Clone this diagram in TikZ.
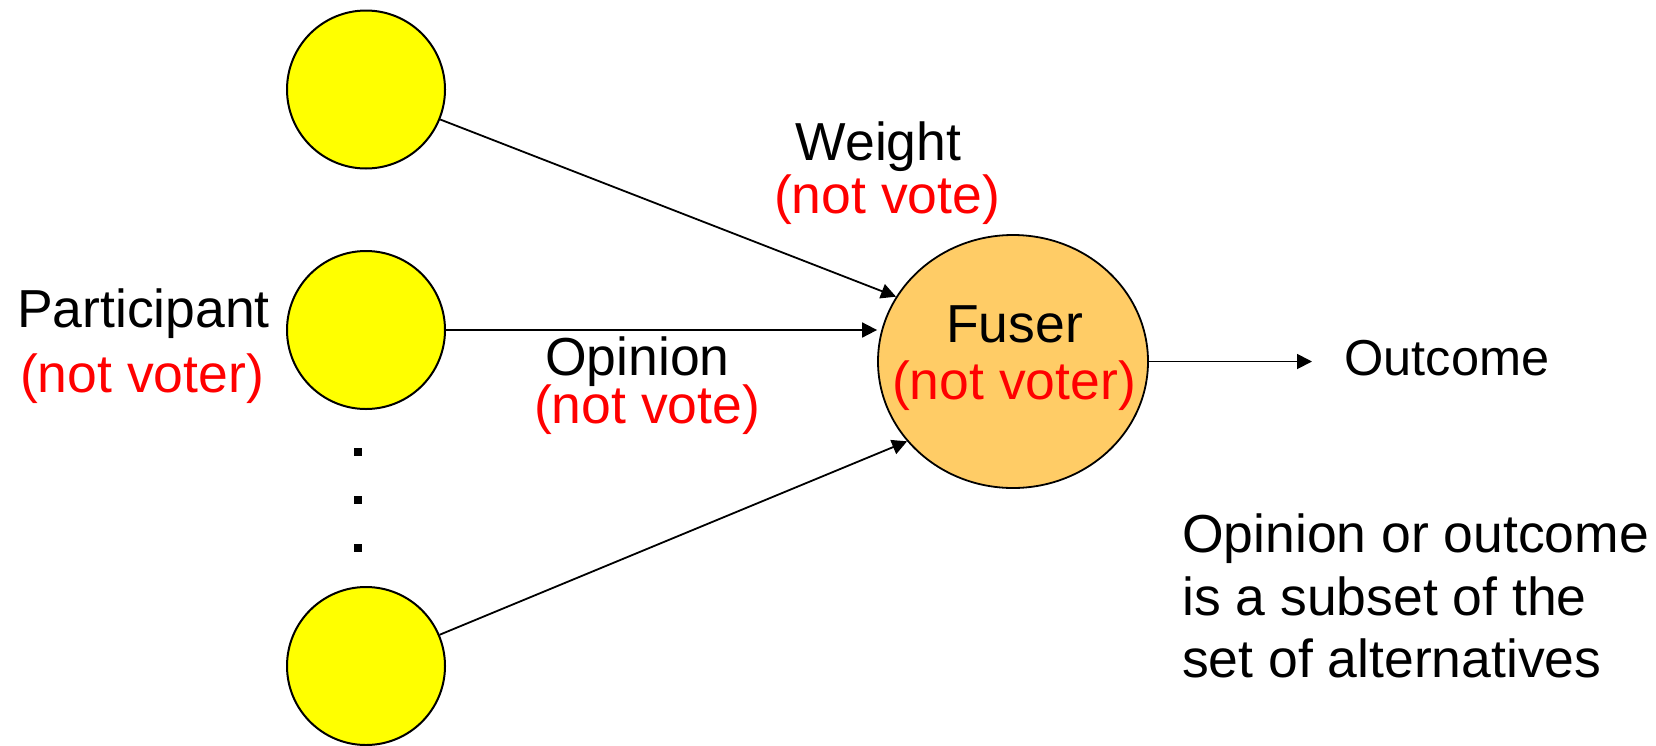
\documentclass[tikz,border=0pt]{standalone}
\usepackage{fontspec}
\setmainfont{Liberation Sans}
\usetikzlibrary{arrows.meta,shapes.geometric}
\definecolor{partyellow}{RGB}{255,255,0}
\definecolor{fuserorange}{RGB}{255,204,102}
\begin{document}
\begin{tikzpicture}[x=1pt,y=-1pt,
  participant/.style={circle,draw=black,line width=2pt,fill=partyellow,minimum size=158pt,inner sep=0pt},
  fuserbox/.style={ellipse,draw=black,line width=1.8pt,fill=fuserorange,minimum width=270pt,minimum height=253pt,inner sep=0pt},
  lbl/.style={inner sep=0pt,anchor=base,font=\fontsize{53.5}{63}\selectfont},
  note/.style={lbl,text=red},
  flow/.style={line width=1.8pt,-{Triangle[length=15pt,width=15pt]}},
  dotmark/.style={fill=black,minimum size=8pt,inner sep=0pt}
]
\useasboundingbox (0,0) rectangle (1656,745);

% participants and the fuser
\node[participant] (p1) at (366,89.5) {};
\node[participant] (p2) at (366,330) {};
\node[participant] (p3) at (366,666) {};
\node[fuserbox] (fuser) at (1013,361.5) {};

% vertical ellipsis between the participants
\node[dotmark] (d1) at (358,452) {};
\node[dotmark] (d2) at (358,500) {};
\node[dotmark] (d3) at (358,548) {};

% connectors
\draw[flow] (p1.338.5) -- (fuser.151.7);
\draw[flow] (p2.east) -- (p2.east -| fuser.west);
\draw[flow] (p3.23.1) -- (fuser.217.1);
\coordinate (outend) at (1312,361.5);
\draw[flow] (fuser.east) -- (outend);

% labels (the tight pair under the middle connector ignores descenders)
\node[lbl]  (partlbl)  at (143.5,327) {Participant};
\node[note] (partnote) at (142,392)   {(not voter)};
\node[lbl]  (wlbl)     at (878.5,160) {Weight};
\node[note] (wnote)    at (887,213)   {(not vote)};
\node[lbl,text depth=0pt]  (olbl) at (637.5,375) {Opinion};
\node[note,text height=30pt] (onote) at (647,423) {(not vote)};
\node[lbl]  (flbl)     at (1014.5,342) {Fuser};
\node[note] (fnote)    at (1014,399)  {(not voter)};
\node[lbl,font=\fontsize{50.5}{60}\selectfont] (outlbl) at (1447,375) {Outcome};
\node[lbl,anchor=base west] (alt1) at (1182,552) {Opinion or outcome};
\node[lbl,anchor=base west] (alt2) at (1182,615) {is a subset of the};
\node[lbl,anchor=base west] (alt3) at (1182,677) {set of alternatives};
\end{tikzpicture}
\end{document}
